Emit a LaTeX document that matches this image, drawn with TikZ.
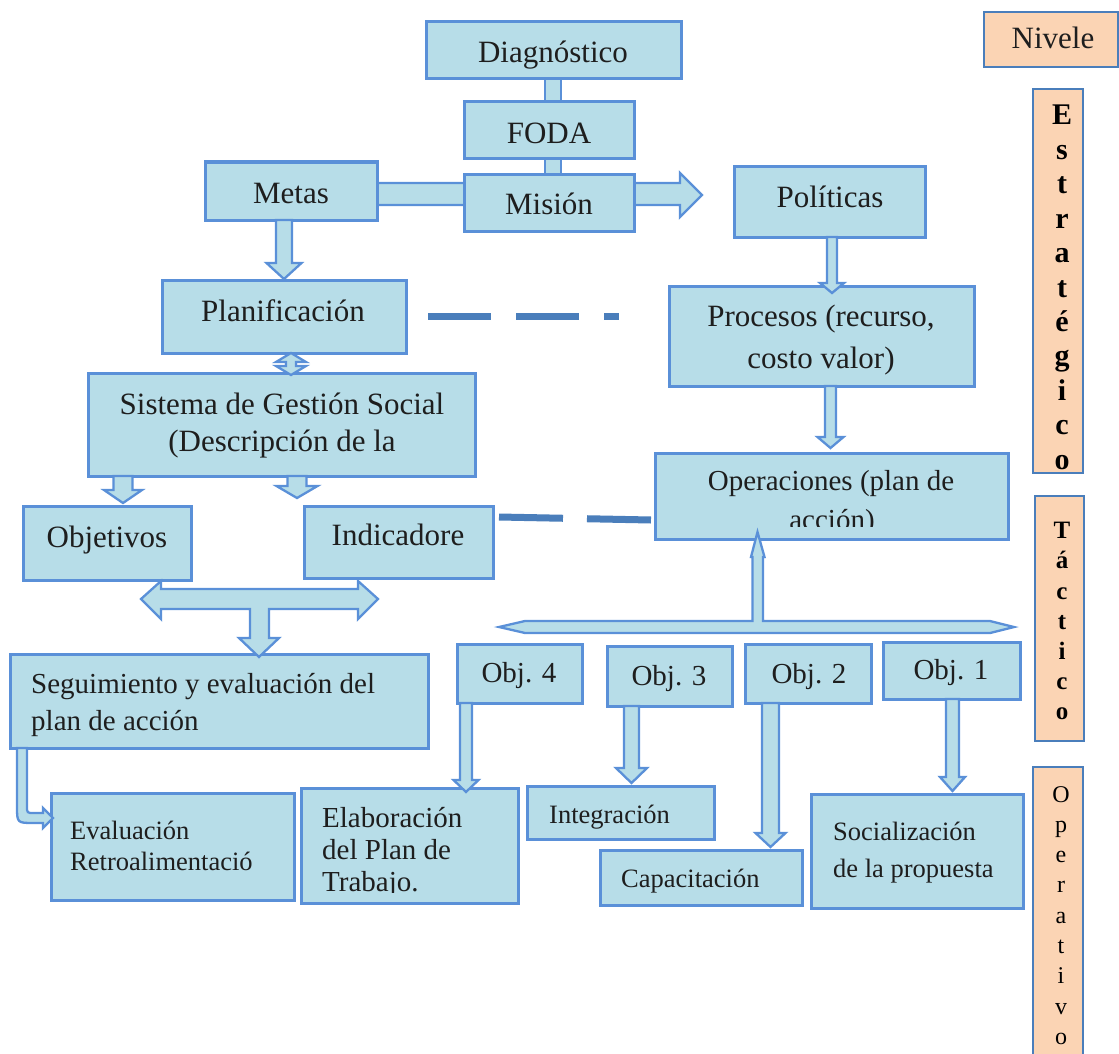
\documentclass[tikz,border=0pt]{standalone}
\usepackage{fontspec}
\setmainfont{Liberation Serif}
\usetikzlibrary{calc,backgrounds}
\definecolor{boxfill}{HTML}{B7DDE8}
\definecolor{boxline}{HTML}{5A90D8}
\definecolor{dashcol}{HTML}{4A7EBB}
\definecolor{orfill}{HTML}{FBD4B4}
\definecolor{txt}{HTML}{1E1E1E}
\newcommand\bx[6]{\node[#1, minimum width={(#5-#3)*1pt}, minimum height={(#6-#4)*1pt}, anchor=north west] (#2) at (#3,#4) {};}
% x, from, to(tip), shaft half width, head half width, head length
\newcommand\blockdown[6]{%
  \draw[barrow] let \p1=(#2), \p2=(#3) in
   ({(#1-#4)*1pt},\y1) -- ({(#1-#4)*1pt},{\y2+#6*1pt}) -- ({(#1-#5)*1pt},{\y2+#6*1pt})
   -- ({#1*1pt},\y2) -- ({(#1+#5)*1pt},{\y2+#6*1pt}) -- ({(#1+#4)*1pt},{\y2+#6*1pt})
   -- ({(#1+#4)*1pt},\y1) -- cycle;}
\begin{document}
\begin{tikzpicture}[x=1pt,y=-1pt,
  box/.style={draw=boxline, fill=boxfill, line width=3pt, inner sep=0pt, outer sep=0pt, rectangle},
  lvbox/.style={draw=dashcol, fill=orfill, line width=1.4pt, inner sep=0pt, outer sep=0pt, rectangle},
  barrow/.style={draw=boxline, fill=boxfill, line width=2.3pt, line join=miter},
  dashline/.style={draw=dashcol, line width=7pt},
  tA/.style={font=\fontsize{31}{36}\selectfont, text=txt, inner sep=0pt, anchor=base},
  tB/.style={font=\fontsize{29}{34}\selectfont, text=txt, inner sep=0pt, anchor=base},
  tBl/.style={tB, anchor=base west},
  tCl/.style={font=\fontsize{26.5}{31}\selectfont, text=txt, inner sep=0pt, anchor=base west},
  lvE/.style={font=\fontsize{30}{34}\selectfont\bfseries, text=black, inner sep=0pt, anchor=base},
  lvT/.style={font=\fontsize{25}{30}\selectfont\bfseries, text=black, inner sep=0pt, anchor=base},
  lvO/.style={font=\fontsize{24}{30}\selectfont, text=black, inner sep=0pt, anchor=base}]
\clip (0,0) rectangle (1119,1054);
% boxes
\bx{box}{diag}{426}{22}{681}{79}
\bx{box}{foda}{464}{102}{634}{159}
\bx{box}{metas}{205}{162}{377}{220}
\bx{box}{mision}{464}{174}{634}{231}
\bx{box}{pol}{734}{166}{925}{237}
\bx{box}{plan}{162}{280}{406}{353}
\bx{box}{proc}{669}{286}{974}{386}
\bx{box}{sgs}{88}{373}{475}{476}
\bx{box}{oper}{655}{453}{1008}{539}
\bx{box}{objt}{23}{506}{191}{580}
\bx{box}{ind}{304}{506}{493}{578}
\bx{box}{o4}{457}{644}{582}{703}
\bx{box}{o3}{607}{646}{732}{706}
\bx{box}{o2}{745}{644}{871}{703}
\bx{box}{o1}{883}{642}{1020}{699}
\bx{box}{seg}{10}{654}{428}{748}
\bx{box}{eval}{51}{793}{294}{900}
\bx{box}{elab}{301}{788}{518}{903}
\bx{box}{integ}{527}{786}{714}{839}
\bx{box}{cap}{600}{850}{802}{905}
\bx{box}{soc}{811}{794}{1023}{908}
\bx{lvbox}{nivel}{984}{12}{1118}{67}
\bx{lvbox}{estr}{1033}{89}{1083}{473}
\bx{lvbox}{tact}{1035}{496}{1084}{741}
\bx{lvbox}{opera}{1033}{767}{1083}{1070}
% connectors behind boxes
\begin{pgfonlayer}{background}
\fill[white] (0,0) rectangle (1119,1054);
\draw[barrow] (545,0 |- diag.center) rectangle (561,0 |- foda.center);
\draw[barrow] (545,0 |- foda.center) rectangle (561,0 |- mision.center);
\coordinate (mtip) at (702,195);
\draw[barrow] (metas.center |- 0,183) -- (680,183) -- (680,173) -- (mtip) -- (680,217) -- (680,205) -- (metas.center |- 0,205) -- cycle;
\end{pgfonlayer}
% block arrows
\blockdown{284}{metas.south}{[yshift=1pt]plan.north}{8}{17.5}{16}
\blockdown{832}{pol.south}{[yshift=-7pt]proc.north}{5}{12}{10}
\blockdown{830.5}{proc.south}{[yshift=5pt]oper.north}{5.5}{13}{11}
\blockdown{123}{sgs.south}{[yshift=3pt]objt.north}{9.5}{19}{13}
\blockdown{297}{sgs.south}{[yshift=8pt]ind.north}{9.5}{20.5}{12}
\blockdown{466}{o4.south}{[yshift=-4pt]elab.north}{6}{12.5}{12}
\blockdown{631.5}{o3.south}{[yshift=3pt]integ.north}{7.5}{15.5}{15}
\blockdown{770.5}{o2.south}{[yshift=3pt]cap.north}{8.5}{15}{14}
\blockdown{952.5}{o1.south}{[yshift=3pt]soc.north}{6.5}{12.5}{14}
% plan <-> sgs
\draw[barrow] (291,0 |- plan.south) -- (306,362) -- (296,362) -- (296,366) -- (306,366) -- (291,375) -- (276,366) -- (286,366) -- (286,362) -- (276,362) -- cycle;
% T arrow objetivos / indicadores -> seguimiento
\coordinate (segtip) at ($(seg.north -| 259,0)+(0,3)$);
\draw[barrow] (141,599) -- (161,581) -- (161,589) -- (358,589) -- (358,581) -- (378,599) -- (358,619) -- (358,609) -- (269,609) -- (269,638) -- (279,638) -- (segtip) -- (239,638) -- (250,638) -- (250,609) -- (161,609) -- (161,619) -- cycle;
% bracket arrow up to operaciones
\coordinate (optip) at ($(oper.south -| 757.5,0)+(0,-7)$);
\draw[barrow] (499,627) -- (525,621) -- (752.5,621) -- (752.5,557) -- (751,557) -- (optip) -- (764.5,557) -- (763,557) -- (763,621) -- (990,621) -- (1014,627) -- (990,633) -- (525,633) -- cycle;
% curved arrow seguimiento -> evaluacion
\coordinate (evtip) at ($(eval.west |- 0,818)+(2,0)$);
\draw[barrow] (17,0 |- seg.south) -- (17,806) .. controls (17,823) .. (34,823) -- (43,823) -- (43,828) -- (evtip) -- (43,808) -- (43,813) -- (34,813) .. controls (27,813) .. (27,806) -- (27,0 |- seg.south) -- cycle;
% dashed links
\draw[dashline, dash pattern=on 63pt off 25pt] ($(plan.east |- 0,316)+(22,0)$) -- ($(proc.west |- 0,316)+(-50,0)$);
\draw[dashline, dash pattern=on 64pt off 24pt] ($(ind.east |- 0,517)+(6,0)$) -- ($(oper.west |- 0,520)+(-4,0)$);
% texts
\node[tA] (t-diag) at (553,63) {Diagnóstico};
\node[tA] (t-foda) at (549,143) {FODA};
\node[tA] (t-metas) at (291,203) {Metas};
\node[tA] (t-mision) at (549,214) {Misión};
\node[tA] (t-pol) at (830,207) {Políticas};
\node[tA] (t-plan) at (283,321) {Planificación};
\node[tA] (t-proc1) at (821,326) {Procesos (recurso,};
\node[tA] (t-proc2) at (821,368) {costo valor)};
\node[tA] (t-sgs1) at (282,414) {Sistema de Gestión Social};
\node[tA] (t-sgs2) at (282,451) {(Descripción de la};
\node[tA] (t-objt) at (107,547) {Objetivos};
\node[tA] (t-ind) at (398,545) {Indicadore};
\node[tB] (t-oper1) at (831,490) {Operaciones (plan de};
\begin{scope}
\clip (656,454) rectangle (1007,526);
\node[tB] (t-oper2) at (832,529) {acción)};
\end{scope}
\node[tBl] (t-seg1) at (31,693) {Seguimiento y evaluación del};
\node[tBl] (t-seg2) at (31,730) {plan de acción};
\node[tCl] (t-eval1) at (70,839) {Evaluación};
\node[tCl] (t-eval2) at (70,870) {Retroalimentació};
\node[tBl] (t-elab1) at (322,827) {Elaboración};
\node[tBl] (t-elab2) at (322,859) {del Plan de};
\begin{scope}
\clip (302,789) rectangle (517,892);
\node[tBl] (t-elab3) at (322,891) {Trabajo.};
\end{scope}
\node[tCl] (t-integ) at (549,823) {Integración};
\node[tCl] (t-cap) at (621,887) {Capacitación};
\node[tCl] (t-soc1) at (833,840) {Socialización};
\node[tCl] (t-soc2) at (833,877) {de la propuesta};
\node[tB] (t-o4) at (519,682) {Obj. 4};
\node[tB] (t-o3) at (669,685) {Obj. 3};
\node[tB] (t-o2) at (809,683) {Obj. 2};
\node[tB] (t-o1) at (951,679) {Obj. 1};
\node[tA] (t-nivel) at (1053,49) {Nivele};
\begin{scope}
\clip (1034,90) rectangle (1082,471);
\foreach \l [count=\i] in {E,s,t,r,a,t,é,g,i,c,o}
  \node[lvE] (estr-\i) at (1062,{125+(\i-1)*34.4}) {\l};
\end{scope}
\foreach \l [count=\i] in {T,á,c,t,i,c,o}
  \node[lvT] (tact-\i) at (1062,{538.6+(\i-1)*30.2}) {\l};
\foreach \l [count=\i] in {O,p,e,r,a,t,i,v,o}
  \node[lvO] (opera-\i) at (1061,{802+(\i-1)*30.3}) {\l};
\end{tikzpicture}
\end{document}
